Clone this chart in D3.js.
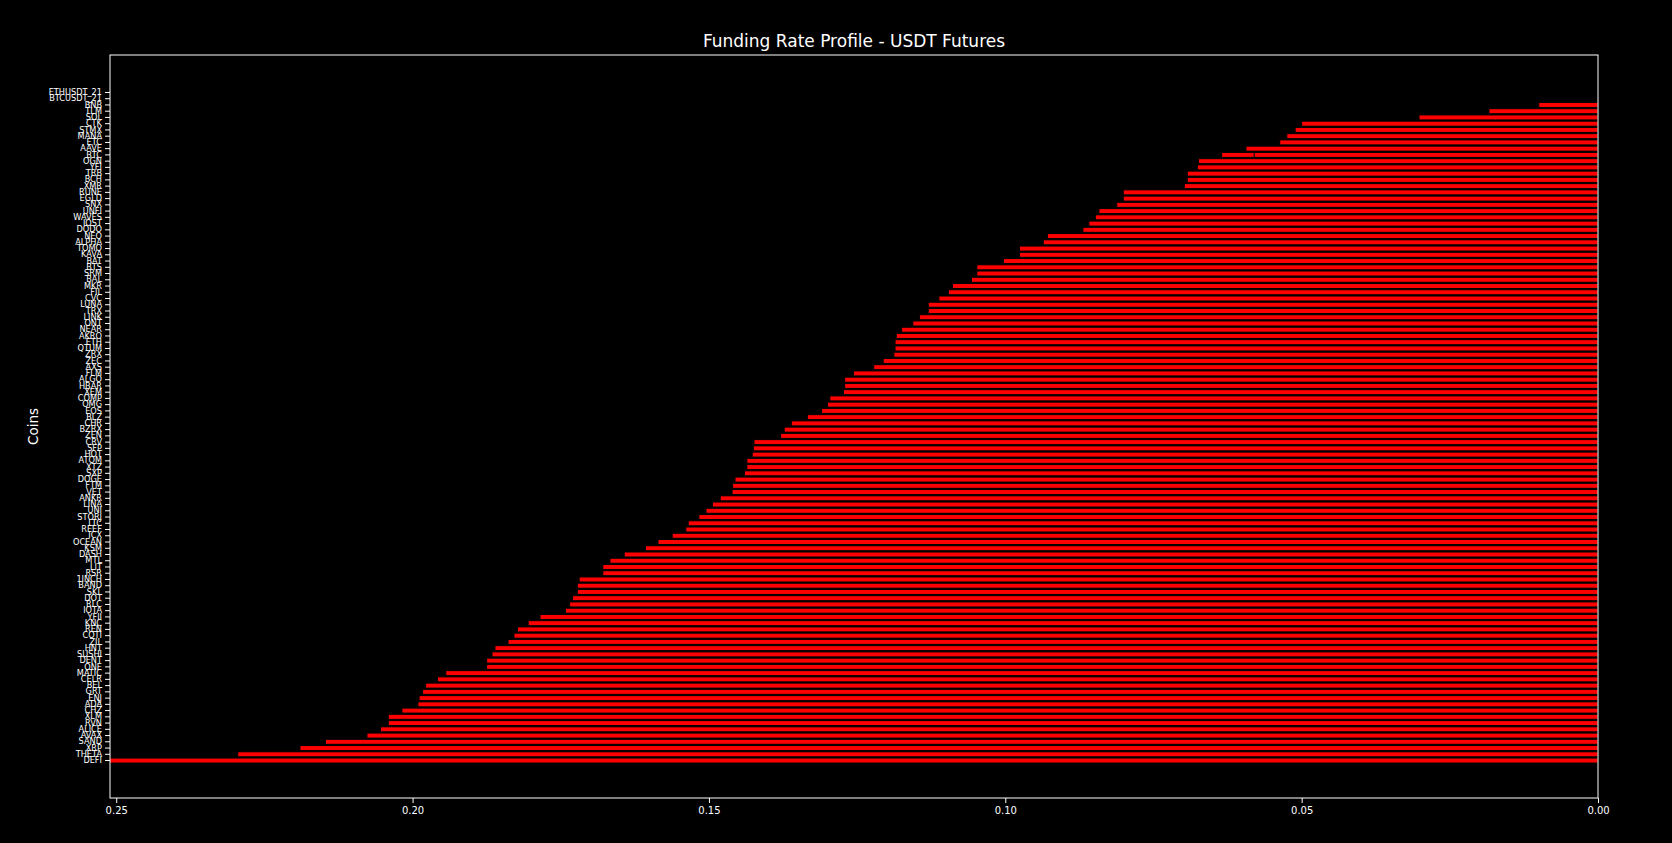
<!DOCTYPE html>
<html>
<head>
<meta charset="utf-8">
<script src="https://cdn.jsdelivr.net/npm/d3@7"></script>
<style>
  html, body { margin: 0; padding: 0; background: #000; }
  svg { display: block; }
  text { font-family: "DejaVu Sans", sans-serif; fill: #fff; }
</style>
</head>
<body>
<svg id="chart" width="1672" height="843"></svg>
<script>
// Coins, top to bottom (the duplicate "BTC" shares one row)
const coins = [
  "ETHUSDT_21","BTCUSDT_21","BNB","TLM","SOL","CTK","STMX","MANA","ETC","AAVE",
  "BTC","BTC","OGN","YFI","TRB","BCH","XMR","RUNE","EGLD","SNX",
  "UNFI","WAVES","IOST","DODO","NEO","ALPHA","TOMO","KAVA","BAT","BTS",
  "SRM","BAL","MKR","FIL","CVC","LUNA","TRX","LINK","ONT","NEAR",
  "AKRO","ETH","QTUM","ZRX","ZEC","AXS","FLM","ALGO","HBAR","XEM",
  "COMP","OMG","EOS","BLZ","CHR","BZRX","ZEN","CRV","SFP","HOT",
  "ATOM","XTZ","SXP","DOGE","FTM","VET","ANKR","LINA","UNI","STORJ",
  "LTC","REEF","ICX","OCEAN","KSM","DASH","MTL","LIT","RSR","1INCH",
  "BAND","SKL","DOT","RLC","IOTA","YFII","KNC","REN","COTI","ZIL",
  "HNT","SUSHI","DENT","ONE","MATIC","CELR","BEL","GRT","ENJ","ADA",
  "CHZ","XLM","RVN","ALICE","AVAX","SAND","XRP","THETA","DEFI"
];
// Funding rate values (same order as coins)
const rates = [
  0.0000,0.0000,0.0100,0.0184,0.0302,0.0500,0.0511,0.0525,0.0537,0.0594,
  0.0635,0.0580,0.0674,0.0676,0.0693,0.0693,0.0698,0.0801,0.0801,0.0812,
  0.0842,0.0848,0.0859,0.0869,0.0929,0.0936,0.0976,0.0976,0.1003,0.1048,
  0.1048,0.1057,0.1089,0.1096,0.1112,0.1130,0.1130,0.1145,0.1156,0.1175,
  0.1184,0.1186,0.1186,0.1188,0.1206,0.1222,0.1256,0.1271,0.1271,0.1273,
  0.1296,0.1300,0.1310,0.1334,0.1361,0.1373,0.1379,0.1424,0.1425,0.1427,
  0.1436,0.1436,0.1440,0.1456,0.1460,0.1461,0.1481,0.1494,0.1505,0.1517,
  0.1535,0.1539,0.1562,0.1586,0.1607,0.1643,0.1667,0.1679,0.1679,0.1719,
  0.1722,0.1722,0.1730,0.1735,0.1742,0.1785,0.1805,0.1823,0.1829,0.1839,
  0.1861,0.1866,0.1875,0.1875,0.1944,0.1958,0.1978,0.1983,0.1989,0.1991,
  0.2018,0.2041,0.2041,0.2054,0.2077,0.2147,0.2190,0.2295,0.2511
];
const xTicks = [0.25, 0.20, 0.15, 0.10, 0.05, 0.00];
const titleText = "Funding Rate Profile - USDT Futures";
const yTitle = "Coins";

const W = 1672, H = 843;
const m = { left: 110, right: 1598, top: 55, bottom: 798 };
const svg = d3.select("#chart");
svg.append("rect").attr("width", W).attr("height", H).attr("fill", "#000");

const data = coins.map((c, i) => ({ coin: c, rate: rates[i] }));

const x = d3.scaleLinear().domain([0.25105, 0]).range([m.left, m.right]);

// rows: unit spacing, with matplotlib-like margins
const uniq = Array.from(new Set(coins));
const n = uniq.length;
const unit = (m.bottom - m.top) / (n - 1 + 12.0);
const firstCenter = m.top + 6.0 * unit;
const y = d3.scaleBand()
  .domain(uniq)
  .range([firstCenter - unit / 2, firstCenter + (n - 0.5) * unit])
  .paddingInner(0.2).paddingOuter(0.1);

const g = svg.append("g");
g.append("defs").append("clipPath").attr("id", "clip")
  .append("rect").attr("x", m.left).attr("y", m.top)
  .attr("width", m.right - m.left).attr("height", m.bottom - m.top);

g.append("g").attr("clip-path", "url(#clip)")
  .selectAll("rect.bar").data(data).join("rect")
  .attr("class", "bar")
  .attr("x", d => x(d.rate))
  .attr("width", d => Math.max(0, x(0) - x(d.rate)))
  .attr("y", d => y(d.coin) + y.bandwidth() / 2 - unit * 0.4)
  .attr("height", unit * 0.8)
  .attr("fill", "#ff0000")
  .attr("stroke", "#000")
  .attr("stroke-width", 1);

// axes
const xAxis = d3.axisBottom(x).tickValues(xTicks).tickFormat(d3.format(".2f")).tickSize(5).tickPadding(4);
const gx = svg.append("g").attr("transform", `translate(0,${m.bottom})`).call(xAxis);
gx.select(".domain").remove();
gx.selectAll("line").attr("stroke", "#fff");
gx.selectAll("text").attr("font-size", 10).attr("fill", "#fff").style("font-family", "DejaVu Sans");

const yAxis = d3.axisLeft(y).tickSize(5).tickPadding(3);
const gy = svg.append("g").attr("transform", `translate(${m.left},0)`).call(yAxis);
gy.select(".domain").remove();
gy.selectAll("line").attr("stroke", "#fff");
gy.selectAll("text").attr("font-size", 8.2).attr("fill", "#fff").style("font-family", "DejaVu Sans");

// spines
svg.append("rect").attr("x", m.left).attr("y", m.top)
  .attr("width", m.right - m.left).attr("height", m.bottom - m.top)
  .attr("fill", "none").attr("stroke", "#fff").attr("stroke-width", 1);

svg.append("text").attr("x", (m.left + m.right) / 2).attr("y", 47)
  .attr("text-anchor", "middle").attr("font-size", 17).text(titleText);

svg.append("text").attr("transform", `translate(38,${(m.top + m.bottom) / 2}) rotate(-90)`)
  .attr("text-anchor", "middle").attr("font-size", 13.5).text(yTitle);
</script>
</body>
</html>
